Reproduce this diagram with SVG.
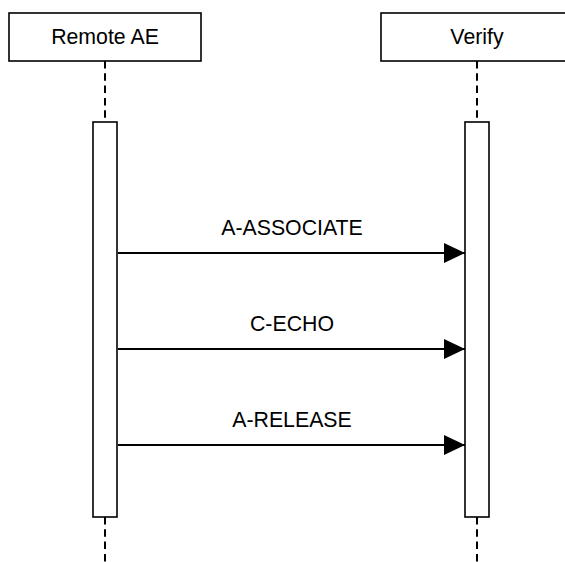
<svg xmlns="http://www.w3.org/2000/svg" width="565" height="562" viewBox="0 0 565 562">
<style>
.box{fill:#fff;stroke:#000;stroke-width:1.6}
.life{stroke:#000;stroke-width:2;stroke-dasharray:7.5 4.8;fill:none}
.msg{stroke:#000;stroke-width:2;fill:none}
text{font-family:"Liberation Sans",Arial,sans-serif;font-size:21.3px;fill:#000;text-anchor:middle}
</style>
<defs>
<marker id="arr" markerUnits="userSpaceOnUse" markerWidth="22" markerHeight="22" refX="21" refY="10" orient="auto">
<path d="M0,0 L21,10 L0,20 Z" fill="#000"/>
</marker>
</defs>
<rect width="565" height="562" fill="#fff"/>
<g id="lifelines">
<line class="life" x1="105" y1="61" x2="105" y2="122"/>
<line class="life" x1="105" y1="517" x2="105" y2="562"/>
<line class="life" x1="477" y1="61" x2="477" y2="122"/>
<line class="life" x1="477" y1="517" x2="477" y2="562"/>
</g>
<g id="remote-ae">
<rect class="box" x="9" y="13" width="192" height="48"/>
<text x="105" y="44">Remote AE</text>
<rect class="box" x="93" y="122" width="24" height="395"/>
</g>
<g id="verify">
<rect class="box" x="381" y="13" width="192" height="48"/>
<text x="477" y="44">Verify</text>
<rect class="box" x="465" y="122" width="24" height="395"/>
</g>
<g id="connectors">
<line class="msg" x1="118" y1="253" x2="465" y2="253" marker-end="url(#arr)"/>
<text x="292" y="235">A-ASSOCIATE</text>
<line class="msg" x1="118" y1="349" x2="465" y2="349" marker-end="url(#arr)"/>
<text x="292" y="331">C-ECHO</text>
<line class="msg" x1="118" y1="445" x2="465" y2="445" marker-end="url(#arr)"/>
<text x="292" y="427">A-RELEASE</text>
</g>
</svg>
